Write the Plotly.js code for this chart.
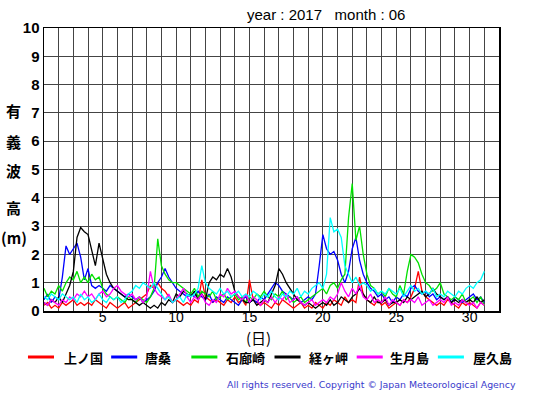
<!DOCTYPE html>
<html><head><meta charset="utf-8">
<script src="https://cdn.plot.ly/plotly-3.0.1.min.js"></script>
<style>body{margin:0;background:#fff}#c{width:555px;height:395px}</style>
</head><body><div id="c"></div>
<script>
// 6-hourly significant wave height (m), June 2017, starting day 1.00, step 0.25 day
const stations = ["上ノ国","唐桑","石廊崎","経ヶ岬","生月島","屋久島"];
const kaminokuni = [
.2,.3,.1,.2, .1,.3,.2,.3, .4,.2,.3,.2, .3,.2,.4,.3, .2,.1,.3,.2, .1,.2,.3,.1,
.2,.3,.4,.5, .6,.9,.8,1.0, .8,.7,.5,.3, .4,.3,.2,.3, .2,.4,.3,1.1, .5,.4,.3,.4,
.3,.2,.4,.3, .5,.3,.4,.2, 1.1,.4,.3,.2, .3,.2,.1,.3, .2,.4,.3,.2, .1,.2,.3,.1,
.2,.1,.3,.2, .1,.3,.2,.4, .3,.2,.5,.3, .4,.3,1.2,.6, .4,.3,.2,.4, .2,.3,.1,.2,
.3,.2,.4,.3, .5,.8,1.4,.7, .5,.4,.3,.2, .3,.2,.4,.3, .2,.1,.3,.2, .3,.2,.1,.3, .2];
const karakuwa = [
.4,.6,.3,.5, .4,1.2,2.3,2.0, 2.2,2.4,1.9,1.1, 1.5,.9,.8,.9, .8,.7,.9,.8, .7,.6,.5,.6,
.5,.4,.5,.3, .4,.5,.7,1.0, 1.2,1.5,1.2,1.0, .8,.7,.6,.5, .6,.5,.7,.5, .4,.6,.3,.5,
.4,.3,.5,.4, .3,.2,.4,.5, .3,.4,.3,.5, .4,.6,.8,1.0, .9,.7,.6,.5, .4,.5,.3,.4,
.5,.4,.6,1.6, 2.7,2.2,2.0,2.1, 1.8,1.3,1.0,1.4, 2.2,2.6,1.8,1.3, 1.0,.8,.7,.5, .6,.4,.5,.3,
.5,.4,.6,.5, .8,.9,.7,.6, .7,.5,.6,.4, .5,.4,.5,.3, .5,.4,.3,.4, .5,.6,.4,.5, .3];
const irozaki = [
.8,.5,.7,.6, .9,.7,1.0,1.2, 1.1,1.4,1.0,1.2, 1.0,1.3,1.1,1.2, .8,.6,.5,.4, .5,.4,.3,.5,
.4,.3,.5,.4, .3,.5,.8,2.55, 1.6,1.3,1.1,1.0, 1.0,.9,.8,.7, .6,.8,.5,.7, .6,.5,.7,.4,
.5,.6,.4,.5, .6,.4,.5,.3, .5,.4,.6,.5, .7,.5,.4,.6, .5,.7,.4,.5, .3,.4,.5,.3,
.4,.5,.6,.7, .8,.6,.9,1.0, .8,1.1,1.3,3.3, 4.5,2.5,3.0,2.0, 1.3,.9,.8,.6, .7,.5,.8,.6,
.5,.9,.6,1.4, 2.0,1.9,1.7,1.3, 1.0,.9,.7,.8, 1.0,.6,.5,.4, .5,.4,.6,.3, .4,.5,.3,.5, .2];
const kyogamisaki = [
.3,.2,.4,.3, .5,.3,.6,.9, 1.4,2.6,2.95,2.8, 2.7,2.1,1.6,2.4, 1.9,1.3,1.0,.8, .7,.6,.5,.4,
.4,.3,.2,.3, .2,.1,.2,.1, .3,.2,.4,.3, .6,.5,.7,.6, .5,.7,.4,.6, .4,1.0,1.2,1.1,
1.3,1.2,1.5,1.2, .7,.5,.4,.3, .3,.4,.2,.3, .4,.3,.6,.9, 1.5,1.3,1.0,.8, .6,.4,.3,.2,
.3,.2,.1,.2, .3,.2,.4,.2, .3,.5,.4,.3, .5,.6,.8,.6, .4,.3,.5,.3, .3,.4,.2,.3,
.3,.4,.3,.5, .4,.5,.6,.7, .5,.6,.8,.6, .5,.4,.5,.3, .4,.3,.4,.3, .4,.3,.5,.3, .4];
const ikitsukishima = [
.3,.2,.4,.3, .2,.4,.3,.5, .4,.6,.5,.7, .5,.6,.4,.6, .7,.5,.6,.8, .9,.7,.6,.5,
.6,.4,.5,.3, .5,1.4,.8,.6, .5,.4,.6,.3, .4,.6,.8,.5, .3,.5,.4,.6, .3,.2,.4,.3,
.6,.5,.8,.6, .7,.5,.4,.6, .3,.5,.4,.2, .4,.3,.5,.3, .5,.4,.6,.3, .4,.5,.3,.2,
.3,.4,.2,.3, .4,.3,.5,.4, .6,1.0,.7,.5, .8,.6,.9,.5, .4,.6,.3,.4, .3,.5,.2,.4,
.3,.2,.4,.3, .4,.3,.5,.2, .3,.4,.2,.3, .4,.3,.5,.2, .3,.2,.4,.3, .2,.3,.1,.3, .2];
const yakushima = [
.5,.4,.6,.5, .4,.6,.5,.4, .5,.3,.6,.4, .5,.3,.4,.6, .4,.3,.5,.4, .5,.3,.4,.6,
.7,.9,.8,1.0, .9,.8,1.0,.8, .6,.4,.5,.3, .4,.5,.3,.6, .5,.6,.8,1.6, 1.0,.8,.7,.6,
.8,.6,.7,.5, .6,.7,.5,.6, .5,.7,.6,.4, .6,.5,.7,.5, .4,.6,.5,.7, .6,.8,.5,.7,
.6,.8,.9,1.0, .8,1.3,3.3,2.8, 2.9,2.6,1.6,1.3, 1.0,1.2,.9,1.0, .9,.7,.8,.6, .7,.6,.8,.7,
.6,.8,.5,.7, .9,.7,.8,.6, .7,.6,.8,.5, .6,.5,.7,.6, .5,.7,.6,.8, .9,.8,1.0,1.1, 1.4];
const colors = ["#ff0000","#0000ff","#00e000","#000000","#ff00ff","#00ffff"];
const seriesList = [kaminokuni, karakuwa, irozaki, kyogamisaki, ikitsukishima, yakushima];
const xTickLabels = ["5","10","15","20","25","30"];
const startDay = 1, stepDay = 0.25;

const traces = seriesList.map((s, k) => ({
  x: s.map((_, i) => startDay + i * stepDay),
  y: s, type: "scatter", mode: "lines", name: stations[k], showlegend: false,
  line: {color: colors[k], width: 1.3}
}));

const tv = [], tt = [];
for (let d = 1; d <= 32; d++) { tv.push(d); tt.push(xTickLabels.includes(String(d)) ? String(d) : ""); }

// pixel -> paper helpers (plot area 44..498 x 28..311)
const px = v => (v - 44) / 454, py = v => (311 - v) / 283;
const jp = "Noto Sans CJK JP";
const ytitle = ["有","義","波","高","(m)"];
const ytitleY = [111,141,170,207,238];
const annotations = ytitle.map((t, i) => ({
  xref: "paper", yref: "paper", x: px(14), y: py(ytitleY[i]),
  xanchor: "center", yanchor: "middle", showarrow: false, text: t,
  font: {family: jp, size: 15, color: "#000", weight: "bold"}
}));
annotations.push({xref:"paper",yref:"paper",x:px(325),y:py(14),xanchor:"center",yanchor:"middle",
  showarrow:false,text:"year : 2017&nbsp;&nbsp;&nbsp;month : 06",font:{family:"Liberation Sans",size:15,color:"#000"}});
annotations.push({xref:"paper",yref:"paper",x:px(258),y:py(337),xanchor:"center",yanchor:"middle",
  showarrow:false,text:"(日)",font:{family:jp,size:15,color:"#000"}});
annotations.push({xref:"paper",yref:"paper",x:px(517),y:py(384),xanchor:"right",yanchor:"middle",
  showarrow:false,text:"All rights reserved. Copyright © Japan Meteorological Agency",
  font:{family:"DejaVu Sans",size:9.4,color:"#3a3acc"}});

// legend drawn manually
const legLineX = [28,111,191,274,356,437];
const legTextX = [62,143,224,306,387,470];
const shapes = [];
stations.forEach((s, k) => {
  shapes.push({type:"line",xref:"paper",yref:"paper",x0:px(legLineX[k]),x1:px(legLineX[k]+26),
    y0:py(357),y1:py(357),line:{color:colors[k],width:3}});
  annotations.push({xref:"paper",yref:"paper",x:px(legTextX[k]),y:py(357),xanchor:"left",yanchor:"middle",
    showarrow:false,text:s,font:{family:jp,size:13,color:"#000",weight:"bold"}});
});

const layout = {
  width: 555, height: 395,
  margin: {l: 44, r: 56, t: 28, b: 84},
  paper_bgcolor: "#fff", plot_bgcolor: "#fff",
  showlegend: false,
  xaxis: {range: [1, 32], tickvals: tv, ticktext: tt, showgrid: true, gridcolor: "#444", gridwidth: 1,
    zeroline: false, showline: true, mirror: true, linecolor: "#000", linewidth: 1.5, ticks: "",
    ticklabelstandoff: -7,
    tickfont: {family: "Liberation Sans", size: 14, color: "#000"}, fixedrange: true},
  yaxis: {range: [0, 10], dtick: 1, showgrid: true, gridcolor: "#444", gridwidth: 1,
    zeroline: false, showline: true, mirror: true, linecolor: "#000", linewidth: 1.5, ticks: "",
    tickfont: {family: "Liberation Sans", size: 15, color: "#000", weight: "bold"}, fixedrange: true},
  annotations: annotations, shapes: shapes
};
Plotly.newPlot("c", traces, layout, {displayModeBar: false, staticPlot: true});
</script></body></html>
